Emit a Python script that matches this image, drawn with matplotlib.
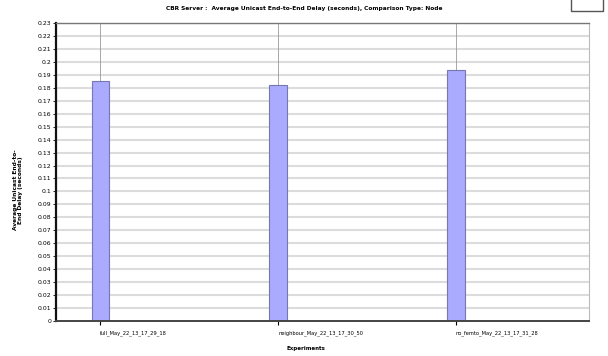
import matplotlib
matplotlib.use('Agg')
import matplotlib.pyplot as plt
from matplotlib.patches import Rectangle
from matplotlib.ticker import FuncFormatter
import numpy as np

plt.rcParams['font.family'] = ['Liberation Sans Narrow', 'DejaVu Sans']

# 実験名と平均遅延
experiments = ['full_May_22_13_17_29_18',
               'neighbour_May_22_13_17_30_50',
               'no_femto_May_22_13_17_31_28']
delay = [0.185, 0.182, 0.194]
yticks = np.round(np.arange(0, 0.2301, 0.01), 2)

fig = plt.figure(figsize=(6.08, 3.56), dpi=100)
ax = fig.add_axes([0.0921, 0.0983, 0.8767, 0.8371])

x = np.arange(len(experiments))

# 横グリッド
for yv in yticks[1:]:
    ax.axhline(yv, color='#dcdcdc', linewidth=1.5, zorder=0)
# カテゴリ位置の縦線
for xv in x:
    ax.axvline(xv, color='#9a9a9a', linewidth=0.6, zorder=1)

ax.bar(x, delay, width=0.1, color='#aaaaff', edgecolor='#7878b0',
       linewidth=0.8, zorder=2)

ax.set_xlim(-0.25, 2.75)
ax.set_ylim(0, 0.23)
ax.set_yticks(yticks)
ax.yaxis.set_major_formatter(FuncFormatter(lambda v, p: ('%g' % round(v, 2))))
ax.set_xticks(x)
ax.set_xticklabels(experiments, ha='left')
ax.tick_params(axis='x', labelsize=3.7, length=3, width=0.8, pad=4)
ax.tick_params(axis='y', labelsize=4.4, length=2, width=0.6, pad=1.5)

ax.spines['left'].set_linewidth(1.6)
ax.spines['left'].set_color('#111111')
ax.spines['bottom'].set_linewidth(1.4)
ax.spines['bottom'].set_color('#444444')
ax.spines['top'].set_linewidth(1.0)
ax.spines['top'].set_color('#777777')
ax.spines['right'].set_linewidth(0.8)
ax.spines['right'].set_color('#bbbbbb')

fig.text(0.5, 0.975,
         'CBR Server :  Average Unicast End-to-End Delay (seconds), Comparison Type: Node',
         ha='center', va='center', fontsize=4.2, fontweight='bold')
fig.text(0.503, 0.02, 'Experiments', ha='center', va='center',
         fontsize=4.0, fontweight='bold')
fig.text(0.03, 0.466, 'Average Unicast End-to-\nEnd Delay (seconds)',
         ha='center', va='center', rotation=90, fontsize=4.2,
         fontweight='bold', linespacing=1.1)

# 右上の小さな枠
fig.patches.append(Rectangle((571 / 608, 1 - 11 / 356), 32 / 608, 12 / 356,
                             transform=fig.transFigure, fill=False,
                             edgecolor='#555555', linewidth=1.0))

fig.savefig('out.png', dpi=100, facecolor='white')
